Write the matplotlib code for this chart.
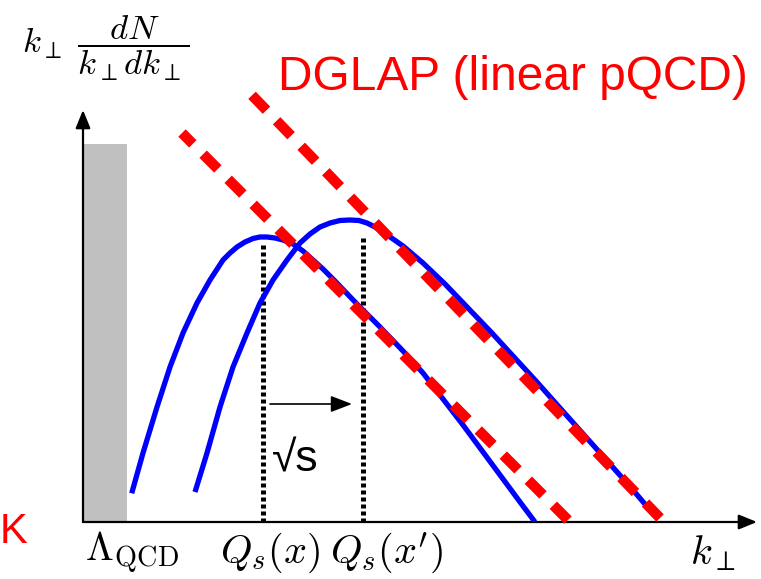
import matplotlib
matplotlib.use("Agg")
import matplotlib.pyplot as plt
import numpy as np

plt.rcParams['mathtext.fontset'] = 'cm'

# schematic values, units ~ pixels from the axis origin
lam_x = [0, 44]
lam_h = 378

curve1_x = [48.7, 60, 74, 87, 100, 114, 127, 140, 147, 154, 162, 170, 177, 184, 192, 200, 210,
            220, 230, 240, 250, 274, 297, 320, 340, 360, 380, 400, 420, 437, 452]
curve1_y = [28.7, 69, 115, 155, 189, 219, 242, 262, 269, 275, 280, 283.5, 285, 285, 284, 282, 278,
            271, 262, 253, 243, 218, 195, 171, 149, 123, 97, 70, 43, 20, 0]

curve2_x = [112, 124, 137, 150, 164, 177, 190, 204, 217, 227, 237, 247, 257, 267, 276, 284, 292,
            300, 310, 320, 340, 362, 385, 408, 430, 453, 477, 502, 527, 550, 572]
curve2_y = [30, 69, 115, 155, 189, 219, 242, 262, 279, 288, 295, 299, 301.5, 302, 301.5, 299, 295,
            290, 283, 276, 259, 238, 214, 190, 166, 141, 114, 86, 58, 32, 6]

# DGLAP lines, listed from the axis upwards
dglap1_x = [485, 99]
dglap1_y = [2, 389]
dglap2_x = [577, 162]
dglap2_y = [4, 434]

qs_x = [180, 280]
qs_top = [280, 287]

shift_x = [187, 269]
shift_y = 118

fig = plt.figure(figsize=(7.61, 5.79), dpi=100)
ax = fig.add_axes([83 / 761, 57 / 579, 674 / 761, 410 / 579])
ax.set_xlim(0, 674)
ax.set_ylim(0, 410)
ax.axis('off')

# Lambda_QCD band
ax.bar(lam_x[0], lam_h, width=lam_x[1] - lam_x[0], align='edge', color='#c0c0c0', zorder=1)

# axes with arrows
ax.annotate('', xy=(674, 0), xytext=(0, 0), annotation_clip=False,
            arrowprops=dict(arrowstyle='-|>,head_length=1.1,head_width=0.45', color='black', lw=1.6,
                            shrinkA=0, shrinkB=0))
ax.annotate('', xy=(0, 412), xytext=(0, 0), annotation_clip=False,
            arrowprops=dict(arrowstyle='-|>,head_length=1.1,head_width=0.45', color='black', lw=1.6,
                            shrinkA=0, shrinkB=0))

# saturation scales
for x, top in zip(qs_x, qs_top):
    ax.plot([x, x], [0, top], color='black', lw=3.6, dashes=(0.8, 0.6), zorder=2)

# gluon distributions
for xs, ys in [(curve1_x, curve1_y), (curve2_x, curve2_y)]:
    ax.plot(xs, ys, color='blue', lw=3.8, solid_capstyle='butt', solid_joinstyle='round', zorder=3)

# DGLAP lines
for xs, ys in [(dglap1_x, dglap1_y), (dglap2_x, dglap2_y)]:
    ax.plot(xs, ys, color='red', lw=7.5, dashes=(2.0, 1.4), clip_on=False, zorder=4)

# shift arrow
ax.annotate('', xy=(shift_x[1], shift_y), xytext=(shift_x[0], shift_y),
            arrowprops=dict(arrowstyle='-|>,head_length=1.3,head_width=0.5', color='black', lw=1.2,
                            shrinkA=0, shrinkB=0))
ax.text(189, 62, '√s', fontsize=32, family='Liberation Sans', ha='left', va='center')

# labels
ax.text(195, 444, 'DGLAP (linear pQCD)', color='red', fontsize=34.5, family='Liberation Sans',
        ha='left', va='center')
ax.text(-83, -10, 'K', color='red', fontsize=30, family='Liberation Sans', ha='left', va='center')
ax.text(-61, 474, r'$k_\perp\ \dfrac{dN}{k_\perp dk_\perp}$', fontsize=25, ha='left', va='center')
ax.text(2, -31, r'$\Lambda_{\rm QCD}$', fontsize=29, ha='left', va='center')
ax.text(137, -31, r'$Q_s(x)$', fontsize=29, ha='left', va='center')
ax.text(247, -31, r'$Q_s(x^\prime)$', fontsize=29, ha='left', va='center')
ax.text(607, -31, r'$k_\perp$', fontsize=29, ha='left', va='center')
ax.text(495, 530, r'$\cdot\,(x_{\rm min}\,\cdot\,\cdot)$', fontsize=16, color='#1a2a5a', ha='left', va='bottom')

fig.savefig('out.png', dpi=100)
